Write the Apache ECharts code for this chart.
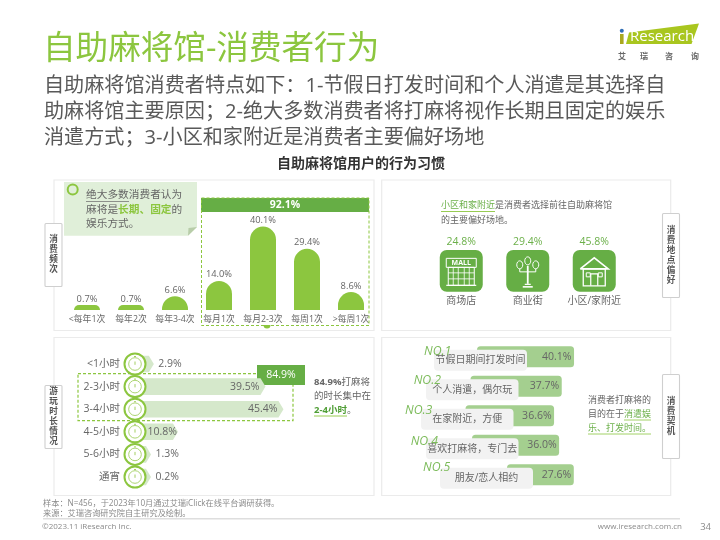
<!DOCTYPE html>
<html><head><meta charset="utf-8">
<style>html,body{margin:0;padding:0;background:#fff}#c{width:720px;height:540px}</style>
<script src="https://cdn.jsdelivr.net/npm/echarts@6/dist/echarts.min.js"></script>
</head><body><div id="c"></div>
<script>
const freqCategories = ['<每年1次','每年2次','每年3-4次','每月1次','每月2-3次','每周1次','>每周1次'];
const freqValues = [0.7,0.7,6.6,14.0,40.1,29.4,8.6];
const venueCategories = ['商场店','商业街','小区/家附近'];
const venueValues = [24.8,29.4,45.8];
const durationCategories = ['<1小时','2-3小时','3-4小时','4-5小时','5-6小时','通宵'];
const durationValues = [2.9,39.5,45.4,10.8,1.3,0.2];
const motiveCategories = ['节假日期间打发时间','个人消遣，偶尔玩','在家附近，方便','喜欢打麻将，专门去','朋友/恋人相约'];
const motiveRanks = ['NO.1','NO.2','NO.3','NO.4','NO.5'];
const motiveValues = [40.1,37.7,36.6,36.0,27.6];
const freqHighlight = '92.1%';
const durationHighlight = '84.9%';

// staggered layout of the motive rows (style only)
const motiveShift = [56,49.5,44.5,51,86];
const motiveBox = [[13,93],[5,92.5],[0,92.5],[5,92.5],[19,93]];
const motiveRank = [[-10,-1.75],[-12.3,-2.25],[-16,-1.75],[-15.3,.5],[-17,-3]];

const FF = '"Open Sans","Noto Sans CJK SC",sans-serif';
const G1 = '#8cc63f', G2 = '#66ae45', GT = '#6cb04a', TXT = '#666666';
const font = (s,w) => (w?w+' ':'')+s+'px '+FF;

function rect(x,y,w,h,fill,extra){return Object.assign({type:'rect',shape:{x,y,width:w,height:h,r:(extra&&extra.r)||0},style:Object.assign({fill},extra&&extra.style),z:(extra&&extra.z)||1,silent:true});}
function box(x,y,w,h,stroke,lw,dash,z){return {type:'rect',shape:{x,y,width:w,height:h},style:{fill:'none',stroke,lineWidth:lw,lineDash:dash||null},z:z||1,silent:true};}
function line(x1,y1,x2,y2,stroke,lw,z){return {type:'line',shape:{x1,y1,x2,y2},style:{stroke,lineWidth:lw||1},z:z||5,silent:true};}
function text(t,x,y,size,fill,opt){opt=opt||{};return {type:'text',x,y,z:opt.z||6,silent:true,style:{text:t,fill,font:font(size,opt.weight),align:opt.align||'left',verticalAlign:'middle',lineHeight:opt.lh,rich:opt.rich}};}
function tag(t,x,y,w,h){return [
  {type:'rect',shape:{x:x+.5,y:y+.5,width:w,height:h,r:1},style:{fill:'#fff',stroke:'#cfcfcf',lineWidth:1.1},z:7,silent:true,},
  {type:'text',x:x+w/2+.5,y:y+h/2+.5,z:8,silent:true,style:{text:t.split('').join('\n'),fill:'#555',font:font(8.6,'bold'),align:'center',verticalAlign:'middle',lineHeight:10}}
];}

const graphics = [
  text('自助麻将馆-消费者行为',43,50,32.6,G1),
  text('自助麻将馆消费者特点如下：1-节假日打发时间和个人消遣是其选择自',44,86,20.12,'#595959'),
  text('助麻将馆主要原因；2-绝大多数消费者将打麻将视作长期且固定的娱乐',44,112,20.12,'#595959'),
  text('消遣方式；3-小区和家附近是消费者主要偏好场地',44,138,20.12,'#595959'),
  text('自助麻将馆用户的行为习惯',361,164.5,14,'#333',{align:'center',weight:'bold'}),
  // logo
  {type:'polygon',shape:{points:[[629,32.5],[699,23.5],[691.5,44],[626,44]]},style:{fill:'#a9c61f'},z:1,silent:true},
  {type:'circle',shape:{cx:621.8,cy:30.8,r:2},style:{fill:'#2f6db5'},z:1,silent:true},
  rect(620,34,3.6,10,'#a9a81f'),
  text('Research',630,36.5,15,'#fff'),
  text('艾',622,56.5,8,'#666',{align:'center',weight:'bold'}),
  text('瑞',644,56.5,8,'#666',{align:'center',weight:'bold'}),
  text('咨',669,56.5,8,'#666',{align:'center',weight:'bold'}),
  text('询',695,56.5,8,'#666',{align:'center',weight:'bold'}),
  // panels
  box(54,180,320,150.5,'#ebebeb',1.2),
  box(381.7,180,289,150.5,'#ebebeb',1.2),
  box(54,337.5,320,158,'#ebebeb',1.2),
  box(381.7,337.5,289,158,'#ebebeb',1.2),
  ...tag('消费频次',44.5,223,17,63),
  ...tag('消费地点偏好',662,213,17,84),
  ...tag('游玩时长情况',44.5,385,17,63),
  ...tag('消费契机',662,374,17,84),
  // callout
  {type:'polygon',shape:{points:[[64,182],[197,182],[197,227],[188,235.7],[64,235.7]]},style:{fill:'#e0efd9'},z:1,silent:true},
  {type:'polygon',shape:{points:[[188,235.7],[197,227],[188.5,228]]},style:{fill:'#b8cda9'},z:2,silent:true},
  {type:'circle',shape:{cx:72.7,cy:189.5,r:5},style:{fill:'none',stroke:G1,lineWidth:2},z:3,silent:true},
  text('绝大多数消费者认为',86,195,10.7,TXT),
  {type:'text',x:86,y:209.5,z:6,silent:true,style:{text:'麻将是{g|长期、固定}的',fill:TXT,font:font(10.7),verticalAlign:'middle',rich:{g:{fill:G1,font:font(10.7,'bold')}}}},
  text('娱乐方式。',86,224,10.7,TXT),
  line(86,201.5,129,201.5,'#777',.8),
  // dashed highlight, top left
  box(201.5,198,167.5,127.5,G1,1,[3,2],3),
  rect(201,198,168,14,G2),
  text(freqHighlight,285,205,10.5,'#fff',{align:'center',weight:'bold'}),
  {type:'sector',shape:{cx:267,cy:325,r:3.5,startAngle:0,endAngle:Math.PI},style:{fill:G1},z:2,silent:true},
  // venue text
  {type:'text',x:441,y:205.5,z:6,silent:true,style:{text:'{g|小区和家附近}是消费者选择前往自助麻将馆',fill:TXT,font:font(9),verticalAlign:'middle',rich:{g:{fill:GT,font:font(9)}}}},
  text('的主要偏好场地。',441,220,9,TXT),
  line(441,211.5,495,211.5,G1,.9),
  // duration highlight
  box(78,373.7,215,47,G1,1.2,[3,2],3),
  rect(257,365,48,20,G2,{z:4}),
  text(durationHighlight,281,375,10.5,'#fff',{align:'center'}),
  {type:'text',x:314,y:382.3,z:6,silent:true,style:{text:'{b|84.9%}打麻将',fill:TXT,font:font(9.5),verticalAlign:'middle',rich:{b:{fill:TXT,font:font(9.5,'bold')}}}},
  text('的时长集中在',314,396.3,9.5,TXT),
  text('2-4小时',314,410.3,9.5,'#4f9e35',{weight:'bold'}),
  text('。',347,410.3,9.5,TXT),
  line(314,416,347,416,G1,.9),
  // motive text
  text('消费者打麻将的',588,400,9,TXT),
  {type:'text',x:588,y:414,z:6,silent:true,style:{text:'目的在于{g|消遣娱}',fill:TXT,font:font(9),verticalAlign:'middle',rich:{g:{fill:GT,font:font(9)}}}},
  text('乐、打发时间。',588,428,9,GT),
  line(624,420,651,420,G1,.8),
  line(588,434,651,434,G1,.8),
  // footer
  text('样本：N=456，于2023年10月通过艾瑞iClick在线平台调研获得。',43,504,8.2,'#8a8a8a'),
  text('来源：艾瑞咨询研究院自主研究及绘制。',43,514,8.2,'#8a8a8a'),
  line(43,518.8,680,518.8,'#dedede',1.6,1),
  text('©2023.11 iResearch Inc.',42,526.8,8,'#8a8a8a'),
  text('www.iresearch.com.cn',682,526.8,8,'#8a8a8a',{align:'right'}),
  text('34',711,526.8,9.5,'#8a8a8a',{align:'right'})
];

function stopwatch(cx,cy){
  const C='#a3cf62';
  return [
    {type:'circle',shape:{cx,cy,r:10.5},style:{fill:'#fff',stroke:G1,lineWidth:2}},
    {type:'circle',shape:{cx,cy,r:6.3},style:{fill:'#fff',stroke:C,lineWidth:.9}},
    {type:'line',shape:{x1:cx,y1:cy-2.5,x2:cx,y2:cy+.8},style:{stroke:C,lineWidth:1}},
    {type:'line',shape:{x1:cx-1,y1:cy-7.5,x2:cx+1,y2:cy-7.5},style:{stroke:C,lineWidth:1}}
  ];
}

function venueItem(params,api){
  const i=params.dataIndex, cs=params.coordSys;
  const cx=api.coord([i,0])[0], top=cs.y, bot=cs.y+cs.height, s=21.5, cy=(top+bot)/2;
  const W='#ffffff', L=(a,b,c,d,w)=>({type:'line',shape:{x1:a,y1:b,x2:c,y2:d},style:{stroke:W,lineWidth:w||1}});
  const B=(a,b,c,d,w)=>({type:'rect',shape:{x:a,y:b,width:c,height:d},style:{fill:'none',stroke:W,lineWidth:w||1}});
  const R=(x,y,r,ry)=>({type:'ellipse',shape:{cx:x,cy:y,rx:r,ry:ry||r},style:{fill:'none',stroke:W,lineWidth:1}});
  let icon=[];
  if(i===0){
    icon=[B(-15,-12.5,30,9),{type:'text',style:{x:0,y:-8,text:'MALL',fill:W,font:'bold 7px '+FF,align:'center',verticalAlign:'middle'}},
      B(-13,-3.5,26,18),L(-8,-3.5,-8,14.5,.8),L(-3,-3.5,-3,14.5,.8),L(3,-3.5,3,14.5,.8),L(8,-3.5,8,14.5,.8),L(-13,2,13,2,.8),L(-13,8,13,8,.8),L(-15,14.5,15,14.5,1.2)];
  }else if(i===1){
    icon=[L(0,-5,0,13,1.8),L(-5,16,5,16,1.6),L(-3,13.5,3,13.5,1.2),R(0,-10,3,4),R(-8,-6,3,4),R(8,-6,3,4),L(-8,-2,-8,1,1),L(8,-2,8,1,1),L(-8,1,8,1,1)];
  }else{
    icon=[{type:'polyline',shape:{points:[[-14,-2],[0,-13],[14,-2],[-14,-2]]},style:{fill:'none',stroke:W,lineWidth:1.6}},
      B(-11,-2,22,17,1.3),B(-8,2,4,4,1),B(4,2,4,4,1),{type:'polyline',shape:{points:[[-3.5,15],[-3.5,3],[3.5,3],[3.5,15]]},style:{fill:'none',stroke:W,lineWidth:1.2}}];
  }
  return {type:'group',children:[
    {type:'rect',shape:{x:cx-s,y:top,width:s*2,height:bot-top,r:7},style:{fill:G2}},
    {type:'text',style:{x:cx,y:top-7.5,text:api.value(1).toFixed(1)+'%',fill:GT,font:'10.5px '+FF,align:'center',verticalAlign:'middle'}},
    {type:'group',x:cx,y:cy,children:icon}
  ]};
}

function durationItem(params,api){
  const v=api.value(0), p=api.coord([v,api.value(1)]), b=api.coord([0,api.value(1)]);
  const h=8.3, start=b[0]-10, tip=Math.max(p[0],start+16), body=tip-5;
  const inside=v>=10;
  const children=[
    {type:'polygon',shape:{points:[[start,p[1]-h],[body,p[1]-h],[tip,p[1]],[body,p[1]+h],[start,p[1]+h]]},style:{fill:'#d5e8cb'}},
    ...stopwatch(start,p[1]),
    {type:'text',style:{x:inside?tip-(v<20?1:6):tip+4.5,y:p[1],text:v.toFixed(1)+'%',fill:TXT,font:'10.5px '+FF,align:inside?'right':'left',verticalAlign:'middle'}}
  ];
  return {type:'group',children};
}

function motiveItem(params,api){
  const i=params.dataIndex, v=api.value(0);
  const p=api.coord([v,i]), b=api.coord([0,i]);
  const off=motiveShift[i], h=10.5, left=b[0]+off, tip=p[0]+off;
  const gx=b[0]+motiveBox[i][0], gw=motiveBox[i][1], gy=p[1]+3.5;
  return {type:'group',children:[
    {type:'rect',shape:{x:left,y:p[1]-h,width:tip-left,height:h*2,r:3.5},style:{fill:'#a4cf8f'}},
    {type:'text',style:{x:tip-2.5,y:p[1],text:v.toFixed(1)+'%',fill:TXT,font:'10.5px '+FF,align:'right',verticalAlign:'middle'}},
    {type:'rect',shape:{x:gx,y:gy-h,width:gw,height:h*2,r:4},style:{fill:'#f2f2f2'}},
    {type:'text',style:{x:gx+gw/2,y:gy,text:motiveCategories[i],fill:TXT,font:'10px '+FF,align:'center',verticalAlign:'middle'}},
    {type:'text',style:{x:gx+motiveRank[i][0],y:gy+motiveRank[i][1]-3.5-4,text:motiveRanks[i],fill:'#7cbb5a',font:'italic 12.3px '+FF,align:'left',verticalAlign:'middle'}}
  ]};
}

const chart=echarts.init(document.getElementById('c'),null,{renderer:'canvas'});
chart.setOption({
  animation:false,
  textStyle:{fontFamily:FF},
  graphic:{elements:graphics},
  grid:[
    {left:65,top:206,width:308,height:104},
    {left:428,top:250,width:199.5,height:41.7},
    {left:145,top:352.7,width:152.5,height:135.6},
    {left:421,top:342,width:121,height:147.5}
  ],
  xAxis:[
    {gridIndex:0,type:'category',data:freqCategories,axisLine:{show:false},axisTick:{show:false},axisLabel:{interval:0,color:TXT,fontSize:8.8,margin:5,fontFamily:FF}},
    {gridIndex:1,type:'category',data:venueCategories,axisLine:{show:false},axisTick:{show:false},axisLabel:{interval:0,color:TXT,fontSize:10,margin:4,fontFamily:FF}},
    {gridIndex:2,type:'value',min:0,max:50,show:false},
    {gridIndex:3,type:'value',min:0,max:50,show:false}
  ],
  yAxis:[
    {gridIndex:0,type:'value',min:0,max:50,show:false},
    {gridIndex:1,type:'value',min:0,max:100,show:false},
    {gridIndex:2,type:'category',inverse:true,data:durationCategories,axisLine:{show:false},axisTick:{show:false},axisLabel:{color:TXT,fontSize:10.5,margin:25,fontFamily:FF}},
    {gridIndex:3,type:'category',inverse:true,data:motiveCategories,show:false}
  ],
  series:[
    {type:'bar',xAxisIndex:0,yAxisIndex:0,data:freqValues,barWidth:26,barMinHeight:5,z:4,
      itemStyle:{color:G1,borderRadius:[13,13,0,0]},
      label:{show:true,position:'top',distance:1.5,color:TXT,fontSize:9.3,fontFamily:FF,formatter:p=>p.value.toFixed(1)+'%'}},
    {type:'custom',xAxisIndex:1,yAxisIndex:1,coordinateSystem:'cartesian2d',data:venueValues.map((v,i)=>[i,v]),renderItem:venueItem,z:4},
    {type:'custom',xAxisIndex:2,yAxisIndex:2,coordinateSystem:'cartesian2d',data:durationValues.map((v,i)=>[v,i]),encode:{x:0,y:1},renderItem:durationItem,z:4},
    {type:'custom',xAxisIndex:3,yAxisIndex:3,coordinateSystem:'cartesian2d',data:motiveValues.map((v,i)=>[v,i]),encode:{x:0,y:1},renderItem:motiveItem,z:4}
  ]
});
</script></body></html>
